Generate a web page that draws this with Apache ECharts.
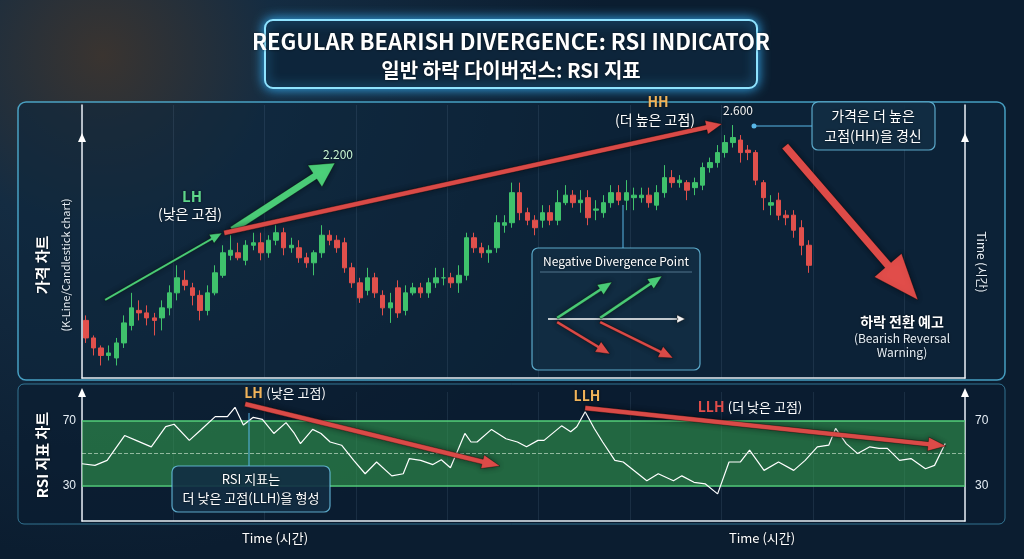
<!DOCTYPE html>
<html><head><meta charset="utf-8">
<script src="https://cdn.jsdelivr.net/npm/echarts@6/dist/echarts.min.js"></script>
<style>html,body{margin:0;padding:0;background:#0c1e30;}#c{width:1024px;height:559px;}</style>
</head><body><div id="c"></div>
<script>
// candles [open, close, low, high]
var candles = [
[1.82,1.75,1.73,1.84],[1.75,1.71,1.68,1.76],[1.71,1.68,1.64,1.72],[1.68,1.69,1.66,1.72],[1.67,1.73,1.64,1.75],
[1.73,1.81,1.71,1.84],[1.80,1.87,1.78,1.93],[1.86,1.85,1.82,1.90],[1.85,1.83,1.80,1.88],[1.83,1.82,1.76,1.85],
[1.83,1.87,1.78,1.90],[1.87,1.93,1.84,1.96],[1.93,1.99,1.90,2.04],[1.98,1.96,1.94,2.02],[1.95,1.92,1.88,1.97],
[1.92,1.86,1.82,1.94],[1.86,1.93,1.84,1.96],[1.93,2.01,1.92,2.04],[2.00,2.09,1.99,2.12],[2.08,2.10,2.06,2.16],
[2.09,2.07,2.06,2.13],[2.06,2.12,2.04,2.14],[2.12,2.13,2.10,2.17],[2.13,2.09,2.06,2.17],[2.09,2.14,2.07,2.16],
[2.14,2.17,2.12,2.20],[2.17,2.11,2.08,2.19],[2.11,2.12,2.09,2.15],[2.11,2.07,2.05,2.14],[2.07,2.05,2.03,2.09],
[2.05,2.09,2.00,2.10],[2.09,2.16,2.07,2.20],[2.16,2.14,2.12,2.18],[2.14,2.11,2.09,2.16],[2.13,2.03,2.01,2.15],
[2.03,1.97,1.95,2.05],[1.97,1.91,1.89,1.99],[1.94,1.99,1.92,2.03],[1.99,1.93,1.91,2.01],[1.92,1.87,1.84,1.94],
[1.87,1.89,1.81,1.93],[1.95,1.85,1.83,1.98],[1.86,1.93,1.84,1.96],[1.93,1.95,1.92,1.97],[1.95,1.93,1.91,1.97],
[1.93,1.97,1.91,1.99],[1.97,1.99,1.95,2.03],[1.99,1.99,1.96,2.03],[1.99,1.97,1.95,2.01],[1.97,2.00,1.93,2.04],
[2.00,2.15,1.98,2.17],[2.15,2.11,2.09,2.17],[2.11,2.09,2.07,2.13],[2.09,2.10,2.05,2.12],[2.11,2.21,2.09,2.24],
[2.20,2.21,2.17,2.24],[2.21,2.33,2.19,2.37],[2.33,2.25,2.22,2.37],[2.25,2.22,2.20,2.27],[2.22,2.19,2.16,2.24],
[2.22,2.25,2.19,2.28],[2.25,2.22,2.20,2.28],[2.22,2.29,2.20,2.34],[2.29,2.32,2.28,2.36],[2.32,2.29,2.27,2.34],
[2.29,2.30,2.25,2.34],[2.31,2.23,2.20,2.34],[2.26,2.265,2.22,2.30],[2.25,2.29,2.23,2.32],[2.29,2.33,2.27,2.36],
[2.33,2.30,2.28,2.36],[2.30,2.33,2.26,2.38],[2.31,2.32,2.26,2.35],[2.31,2.32,2.29,2.35],[2.32,2.29,2.27,2.35],
[2.28,2.33,2.26,2.36],[2.33,2.39,2.31,2.44],[2.39,2.37,2.35,2.42],[2.37,2.38,2.35,2.40],[2.37,2.34,2.30,2.38],
[2.35,2.37,2.32,2.39],[2.36,2.43,2.34,2.45],[2.43,2.45,2.41,2.47],[2.45,2.49,2.43,2.52],[2.49,2.53,2.47,2.56],
[2.53,2.55,2.51,2.60],[2.54,2.49,2.45,2.56],[2.50,2.49,2.46,2.52],[2.49,2.38,2.36,2.50],[2.37,2.31,2.26,2.38],
[2.28,2.29,2.24,2.32],[2.30,2.24,2.22,2.33],[2.24,2.23,2.20,2.26],[2.24,2.18,2.15,2.26],[2.19,2.12,2.08,2.22],
[2.12,2.04,2.01,2.14]
];
var slotCount = 116;
// RSI [time index, value]
var rsi = [
[0,43.5],[1.7,42.5],[3.3,45.6],[5.6,61],[7.1,58],[9.1,54],[11,66.5],[12.1,68],[14.1,58],[15.6,64.4],
[17.5,72.7],[19.1,72.7],[20.1,78.5],[21.2,67.5],[22.5,72.3],[23.7,71],[25.2,62.3],[26.8,69],[27.9,62.3],[28.7,56],
[30.3,64.8],[31.4,62.3],[32.6,57],[34.1,55],[35.7,45.6],[37.2,37.3],[38.7,44.6],[40.7,36],[42.2,37.3],[43,46.7],
[44.5,45.6],[46.1,43],[47.2,46],[48.4,41],[50.3,62.3],[51.1,57],[51.9,57],[53.8,64.8],[55.7,59],[57.2,57],
[58.4,54],[59.9,58],[60.7,58],[63,67],[64.2,63.3],[65,66.5],[66.1,75.8],[67.3,65.4],[68.4,57],[70,45.6],
[71.1,44.6],[74.2,33],[75.7,37.3],[77.7,33],[78.8,36],[80.4,32],[81.9,31],[83.5,24.8],[85,44.6],[86.5,44.6],
[87.7,52],[89.6,39.4],[91.5,44.6],[93.5,39.4],[95,45.6],[96.6,54],[98.1,55],[99,65.4],[100.4,56],[101.9,49.8],
[103.5,54],[104.7,53],[105.8,53],[107.4,45.6],[108.9,46.7],[110.8,40.4],[112,42.5],[113.4,56]
];
var rsiTicks = [30, 70];

var cats = []; for (var i = 0; i < slotCount; i++) cats.push(String(i + 1));

function arrow(x1,y1,x2,y2,w,hw,hl,color){
  var dx=x2-x1, dy=y2-y1, L=Math.sqrt(dx*dx+dy*dy), ux=dx/L, uy=dy/L, px=-uy, py=ux;
  var bx=x2-ux*hl, by=y2-uy*hl;
  var pts=[[x1+px*w/2,y1+py*w/2],[bx+px*w/2,by+py*w/2],[bx+px*hw/2,by+py*hw/2],[x2,y2],
           [bx-px*hw/2,by-py*hw/2],[bx-px*w/2,by-py*w/2],[x1-px*w/2,y1-py*w/2]];
  return {type:'polygon',shape:{points:pts},style:{fill:color,stroke:'rgba(0,0,0,0.35)',lineWidth:1,shadowBlur:6,shadowColor:'rgba(0,0,0,0.5)'},z:50};
}
function txt(x,y,t,size,color,opt){
  opt=opt||{};
  return {type:'text',x:x,y:y,rotation:opt.rot||0,z:60,style:{text:t,fill:color,font:(opt.bold?'bold ':'')+size+'px "Noto Sans CJK KR","Noto Sans",sans-serif',align:opt.align||'center',verticalAlign:'middle',textShadowBlur:3,textShadowColor:'rgba(0,0,0,0.6)'}};
}
function box(x,y,w,h){return {type:'rect',shape:{x:x,y:y,width:w,height:h,r:6},style:{fill:'rgba(18,45,68,0.9)',stroke:'rgba(110,200,235,0.8)',lineWidth:1.2},z:40};}
function line(x1,y1,x2,y2,c,w){return {type:'line',shape:{x1:x1,y1:y1,x2:x2,y2:y2},style:{stroke:c,lineWidth:w||1},z:45};}

var F='"Noto Sans CJK KR","Noto Sans",sans-serif';
var graphics = [
  {type:'rect',shape:{x:0,y:0,width:1024,height:559},style:{fill:{type:'radial',x:0.1,y:0.1,r:0.9,colorStops:[{offset:0,color:'#3a3430'},{offset:0.35,color:'#142c42'},{offset:1,color:'#0b1d30'}]}},z:-10},
  {type:'rect',shape:{x:18,y:102,width:987,height:278,r:8},style:{fill:'rgba(14,38,60,0.6)',stroke:'rgba(90,200,240,0.75)',lineWidth:1.5},z:-5},
  {type:'rect',shape:{x:18,y:384,width:987,height:140,r:6},style:{fill:'rgba(10,28,48,0.6)',stroke:'rgba(90,200,240,0.5)',lineWidth:1},z:-5},
  {type:'rect',shape:{x:265,y:20,width:492,height:68,r:8},style:{fill:'rgba(12,30,48,0.95)',stroke:'#8fe3ff',lineWidth:2,shadowBlur:12,shadowColor:'#38b6ff'},z:30},
  txt(511,42,'REGULAR BEARISH DIVERGENCE: RSI INDICATOR',22,'#ffffff',{bold:true}),
  txt(511,70,'일반 하락 다이버전스: RSI 지표',20,'#ffffff',{bold:true}),
  txt(42,265,'가격 차트',15,'#ffffff',{bold:true,rot:Math.PI/2}),
  txt(66,265,'(K-Line/Candlestick chart)',11,'#e6eef5',{rot:Math.PI/2}),
  txt(42,455,'RSI 지표 차트',15,'#ffffff',{bold:true,rot:Math.PI/2}),
  txt(982,262,'Time (시간)',12,'#e6eef5',{rot:-Math.PI/2}),
  txt(275,538,'Time (시간)',13,'#ffffff'),
  txt(762,538,'Time (시간)',13,'#ffffff'),
  arrow(105,300,222,233,2.5,10,12,'#4cd07a'),
  arrow(232,230,335,163,7,26,24,'#4cd07a'),
  txt(338,154,'2.200',12,'#c8f5d2'),
  txt(192,196,'LH',15,'#5fd68a',{bold:true}),
  txt(190,214,'(낮은 고점)',14,'#ffffff'),
  arrow(224,233,722,124,5,14,16,'#e14d4a'),
  txt(658,102,'HH',14,'#f0b35a',{bold:true}),
  txt(655,120,'(더 높은 고점)',14,'#ffffff'),
  txt(738,110,'2.600',12,'#f2f2f2'),
  {type:'circle',shape:{cx:754,cy:126,r:2.5},style:{fill:'#59b7e8'},z:45},
  line(754,126,812,126,'#59b7e8',1),
  box(812,102,123,48),
  txt(873,116,'가격은 더 높은',14,'#ffffff'),
  txt(873,136,'고점(HH)을 경신',14,'#ffffff'),
  arrow(785,146,918,300,8,36,46,'#e14d4a'),
  txt(902,322,'하락 전환 예고',14,'#ffffff',{bold:true}),
  txt(902,338,'(Bearish Reversal',12,'#e6eef5'),
  txt(902,352,'Warning)',12,'#e6eef5'),
  line(623,205,623,248,'#59b7e8',1),
  box(532,248,168,122),
  txt(616,261,'Negative Divergence Point',12,'#ffffff'),
  line(540,272,692,272,'rgba(150,190,215,0.5)',1),
  line(548,319,680,319,'#ffffff',1.5),
  arrow(678,319,685,319,1,8,8,'#ffffff'),
  arrow(557,318,612,282,3,12,14,'#4cd07a'),
  arrow(600,318,662,276,3,12,14,'#4cd07a'),
  arrow(557,322,610,354,3,12,14,'#e14d4a'),
  arrow(600,322,673,358,3,12,14,'#e14d4a'),
  arrow(245,404,500,466,5,14,18,'#e14d4a'),
  arrow(585,408,946,446,5,14,18,'#e14d4a'),
  {type:'text',x:285,y:393,z:60,style:{text:'{o|LH} {w|(낮은 고점)}',align:'center',verticalAlign:'middle',rich:{o:{fill:'#f0b35a',font:'bold 14px '+F},w:{fill:'#ffffff',font:'13px '+F}}}},
  txt(587,396,'LLH',14,'#f0b35a',{bold:true}),
  {type:'text',x:750,y:407,z:60,style:{text:'{o|LLH} {w|(더 낮은 고점)}',align:'center',verticalAlign:'middle',rich:{o:{fill:'#e14d4a',font:'bold 14px '+F},w:{fill:'#ffffff',font:'13px '+F}}}},
  line(249,413,249,466,'#59b7e8',1),
  box(172,466,158,46),
  txt(251,479,'RSI 지표는',13,'#ffffff'),
  txt(251,498,'더 낮은 고점(LLH)을 형성',13,'#ffffff'),
  {type:'polygon',shape:{points:[[78,142],[86,142],[82,133]]},style:{fill:'#fff'},z:50},
  {type:'polygon',shape:{points:[[961,142],[969,142],[965,133]]},style:{fill:'#fff'},z:50},
  {type:'polygon',shape:{points:[[78,397],[86,397],[82,388]]},style:{fill:'#fff'},z:50},
  {type:'polygon',shape:{points:[[961,397],[969,397],[965,388]]},style:{fill:'#fff'},z:50}
];

var chart = echarts.init(document.getElementById('c'));
var split = {show:true,lineStyle:{color:'rgba(140,170,200,0.13)'}};
var rsiLabel = function(v){return rsiTicks.indexOf(v)>=0?String(v):'';};
chart.setOption({
  animation:false,
  grid:[{left:82,right:59,top:105,height:273},{left:82,right:59,top:392,height:129}],
  xAxis:[
    {type:'category',gridIndex:0,data:cats,axisLine:{lineStyle:{color:'#e8eef4',width:1.5}},axisTick:{show:false},axisLabel:{show:false},splitLine:{show:true,interval:11,lineStyle:{color:'rgba(140,170,200,0.13)'}}},
    {type:'value',gridIndex:1,min:0,max:116,interval:12,axisLine:{lineStyle:{color:'#e8eef4',width:1.5}},axisTick:{show:false},axisLabel:{show:false},splitLine:split}
  ],
  yAxis:[
    {type:'value',gridIndex:0,min:1.59,max:2.68,axisLine:{show:true,lineStyle:{color:'#e8eef4',width:1.5}},axisLabel:{show:false},axisTick:{show:false},splitLine:{show:false}},
    {type:'value',gridIndex:0,position:'right',min:1.59,max:2.68,axisLine:{show:true,lineStyle:{color:'#e8eef4',width:1.5}},axisLabel:{show:false},axisTick:{show:false},splitLine:{show:false}},
    {type:'value',gridIndex:1,min:8,max:88,interval:2,axisLine:{show:true,lineStyle:{color:'#e8eef4',width:1.5}},axisTick:{show:false},splitLine:{show:false},
      axisLabel:{color:'#e6eef5',fontSize:12,margin:6,hideOverlap:false,formatter:rsiLabel}},
    {type:'value',gridIndex:1,position:'right',min:8,max:88,interval:2,axisLine:{show:true,lineStyle:{color:'#e8eef4',width:1.5}},axisTick:{show:false},splitLine:{show:false},
      axisLabel:{color:'#e6eef5',fontSize:12,margin:10,formatter:rsiLabel}}
  ],
  series:[
    {type:'candlestick',xAxisIndex:0,yAxisIndex:0,data:candles,barWidth:5,
      itemStyle:{color:'#3fc26c',color0:'#e0504c',borderColor:'#3fc26c',borderColor0:'#e0504c',borderWidth:1}},
    {type:'line',xAxisIndex:1,yAxisIndex:2,data:rsi,showSymbol:false,lineStyle:{color:'#ffffff',width:1.2},z:5,
      markArea:{silent:true,itemStyle:{color:'rgba(55,165,80,0.55)'},data:[[{yAxis:30},{yAxis:70}]]},
      markLine:{silent:true,symbol:'none',label:{show:false},data:[
        {yAxis:70,lineStyle:{color:'#55d07a',width:1.5,type:'solid'}},
        {yAxis:30,lineStyle:{color:'#55d07a',width:1.5,type:'solid'}},
        {yAxis:50,lineStyle:{color:'rgba(220,240,220,0.6)',width:1,type:'dashed'}}]}}
  ],
  graphic:graphics
});
</script></body></html>
